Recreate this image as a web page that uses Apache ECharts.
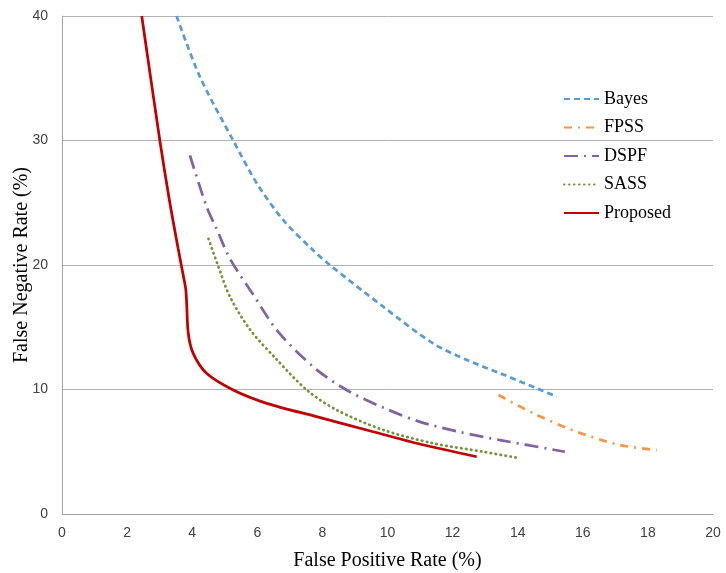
<!DOCTYPE html>
<html>
<head>
<meta charset="utf-8">
<script src="https://cdn.jsdelivr.net/npm/echarts@6/dist/echarts.min.js"></script>
<style>
  html, body { margin: 0; padding: 0; background: #fff; }
  #chart { width: 726px; height: 573px; }
</style>
</head>
<body>
<div id="chart"></div>
<script>
// Error-rate curves: [false positive rate %, false negative rate %]
const seriesNames = ['Bayes', 'FPSS', 'DSPF', 'SASS', 'Proposed'];

const bayes = [[3.52,40],[4.24,35.1],[5.26,30],[6.0,26.5],[6.8,23.6],[7.67,21.3],[8.23,20.0],[9.87,16.65],[11.4,13.7],[12.5,12.3],[13.46,11.3],[14.58,10.1],[15.2,9.42]];
const fpss = [[13.41,9.56],[14.48,8.09],[15.81,6.61],[17.14,5.54],[18.27,5.14]];
const dspf = [[3.93,28.8],[4.44,24.7],[4.75,22.9],[5.16,20.5],[5.88,17.6],[6.65,14.6],[7.82,11.6],[8.85,9.8],[10.0,8.4],[11.0,7.4],[12.2,6.6],[13.46,5.94],[15.45,5.0]];
const sass = [[4.5,22.1],[4.8,19.9],[5.16,17.45],[5.78,14.8],[6.6,12.4],[7.52,9.96],[8.44,8.35],[9.87,6.75],[11.4,5.68],[12.94,5.0],[14.07,4.47]];
const proposed = [[2.45,40],[3.0,30.1],[3.3,25.2],[3.57,21.3],[3.73,19.1],[3.8,18.1],[3.83,16.9],[3.88,14.5],[4.03,12.9],[4.44,11.3],[5.26,9.96],[6.29,8.89],[7.82,7.82],[9.36,6.75],[10.9,5.68],[12.74,4.6]];

const xTicks = { min: 0, max: 20, step: 2 };
const yTicks = { min: 0, max: 40, step: 10 };

const serif = '"Liberation Serif", "DejaVu Serif", serif';
const sans = '"Liberation Sans", Arial, sans-serif';

const styles = {
  Bayes:    { color: '#5B9BD5', width: 2.75, type: [6, 4] },
  FPSS:     { color: '#F79646', width: 2.75, type: [8, 6, 2, 6] },
  DSPF:     { color: '#8064A2', width: 2.75, type: [14, 6, 2, 6] },
  SASS:     { color: '#77933C', width: 2.75, type: [0.5, 4.5], cap: 'round' },
  Proposed: { color: '#C00000', width: 2.75, type: 'solid' }
};
const dataByName = { Bayes: bayes, FPSS: fpss, DSPF: dspf, SASS: sass, Proposed: proposed };

const chart = echarts.init(document.getElementById('chart'));
chart.setOption({
  backgroundColor: '#fff',
  animation: false,
  grid: { left: 62, right: 13, top: 16, bottom: 59, containLabel: false, outerBoundsMode: 'none' },
  legend: {
    orient: 'vertical',
    left: 563,
    top: 90,
    padding: 0,
    itemWidth: 35,
    itemHeight: 14,
    itemGap: 10.5,
    itemStyle: { opacity: 0 },
    textStyle: { fontFamily: serif, fontSize: 18, lineHeight: 18, color: '#000' },
    data: seriesNames
  },
  xAxis: {
    type: 'value',
    min: xTicks.min, max: xTicks.max, interval: xTicks.step,
    name: 'False Positive Rate (%)',
    nameLocation: 'middle',
    nameGap: 37,
    nameMoveOverlap: false,
    nameTextStyle: { fontFamily: serif, fontSize: 20, color: '#000' },
    axisLine: { show: true, lineStyle: { color: '#a6a6a6', width: 1 } },
    axisTick: { show: false },
    splitLine: { show: false },
    axisLabel: { fontFamily: sans, fontSize: 14, color: '#404040', margin: 12 }
  },
  yAxis: {
    type: 'value',
    min: yTicks.min, max: yTicks.max, interval: yTicks.step,
    name: 'False Negative Rate (%)',
    nameLocation: 'middle',
    nameGap: 30,
    nameMoveOverlap: false,
    nameTextStyle: { fontFamily: serif, fontSize: 20, color: '#000' },
    axisLine: { show: true, lineStyle: { color: '#a6a6a6', width: 1 } },
    axisTick: { show: false },
    splitLine: { show: true, lineStyle: { color: '#b3b3b3', width: 1 } },
    axisLabel: { fontFamily: sans, fontSize: 14, color: '#404040', margin: 14 }
  },
  series: seriesNames.map(name => ({
    name: name,
    type: 'line',
    data: dataByName[name],
    smooth: 0.3,
    symbol: 'none',
    itemStyle: { color: styles[name].color },
    lineStyle: styles[name]
  }))
});
</script>
</body>
</html>
